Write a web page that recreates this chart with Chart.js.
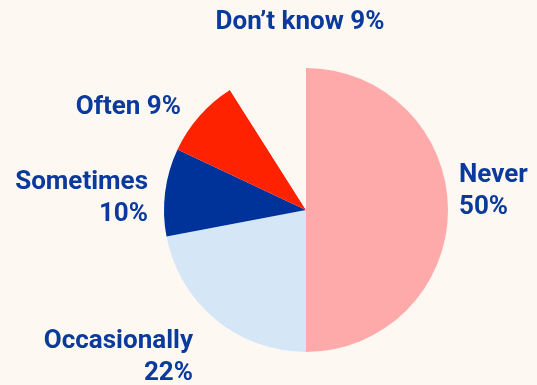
<!DOCTYPE html>
<html>
<head>
<meta charset="utf-8">
<script src="https://cdn.jsdelivr.net/npm/chart.js@4/dist/chart.umd.min.js"></script>
<style>
  html, body { margin: 0; padding: 0; background: #fdf8f2; }
  #wrap { width: 537px; height: 385px; }
</style>
</head>
<body>
<div id="wrap"><canvas id="pie"></canvas></div>
<script>
const categories = ['Never', 'Occasionally', 'Sometimes', 'Often', 'Don\u2019t know'];
const shares = [50, 22, 10, 9, 9];
const sliceColors = ['#ffaaaa', '#d5e7f7', '#003399', '#ff2200', '#fdf8f2'];

// label anchors, in pixels from the pie centre; two-line labels break after the name
const labelLayout = [
  { dx: 153, dy: -28, align: 'left', lines: 2 },
  { dx: -113, dy: 138, align: 'right', lines: 2 },
  { dx: -158, dy: -21, align: 'right', lines: 2 },
  { dx: -125, dy: -96, align: 'right', lines: 1 },
  { dx: -6, dy: -181, align: 'center', lines: 1 }
];

const sliceLabels = {
  id: 'sliceLabels',
  afterDraw(chart) {
    const ctx = chart.ctx;
    const arcs = chart.getDatasetMeta(0).data;
    ctx.save();
    ctx.font = 'bold 26px Roboto';
    ctx.fillStyle = '#0a3a9b';
    ctx.textBaseline = 'alphabetic';
    arcs.forEach((arc, i) => {
      const l = labelLayout[i];
      const x = arc.x + l.dx, y = arc.y + l.dy;
      const pct = shares[i] + '%';
      ctx.textAlign = l.align;
      if (l.lines === 2) {
        ctx.fillText(categories[i], x, y);
        ctx.fillText(pct, x, y + 32);
      } else {
        ctx.fillText(categories[i] + ' ' + pct, x, y);
      }
    });
    ctx.restore();
  }
};

new Chart(document.getElementById('pie'), {
  type: 'pie',
  data: {
    labels: categories,
    datasets: [{ data: shares, backgroundColor: sliceColors, borderWidth: 0 }]
  },
  options: {
    responsive: true,
    maintainAspectRatio: false,
    animation: false,
    layout: { padding: { left: 164, right: 89, top: 68, bottom: 33 } },
    plugins: { legend: { display: false }, tooltip: { enabled: false } }
  },
  plugins: [sliceLabels]
});
</script>
</body>
</html>
